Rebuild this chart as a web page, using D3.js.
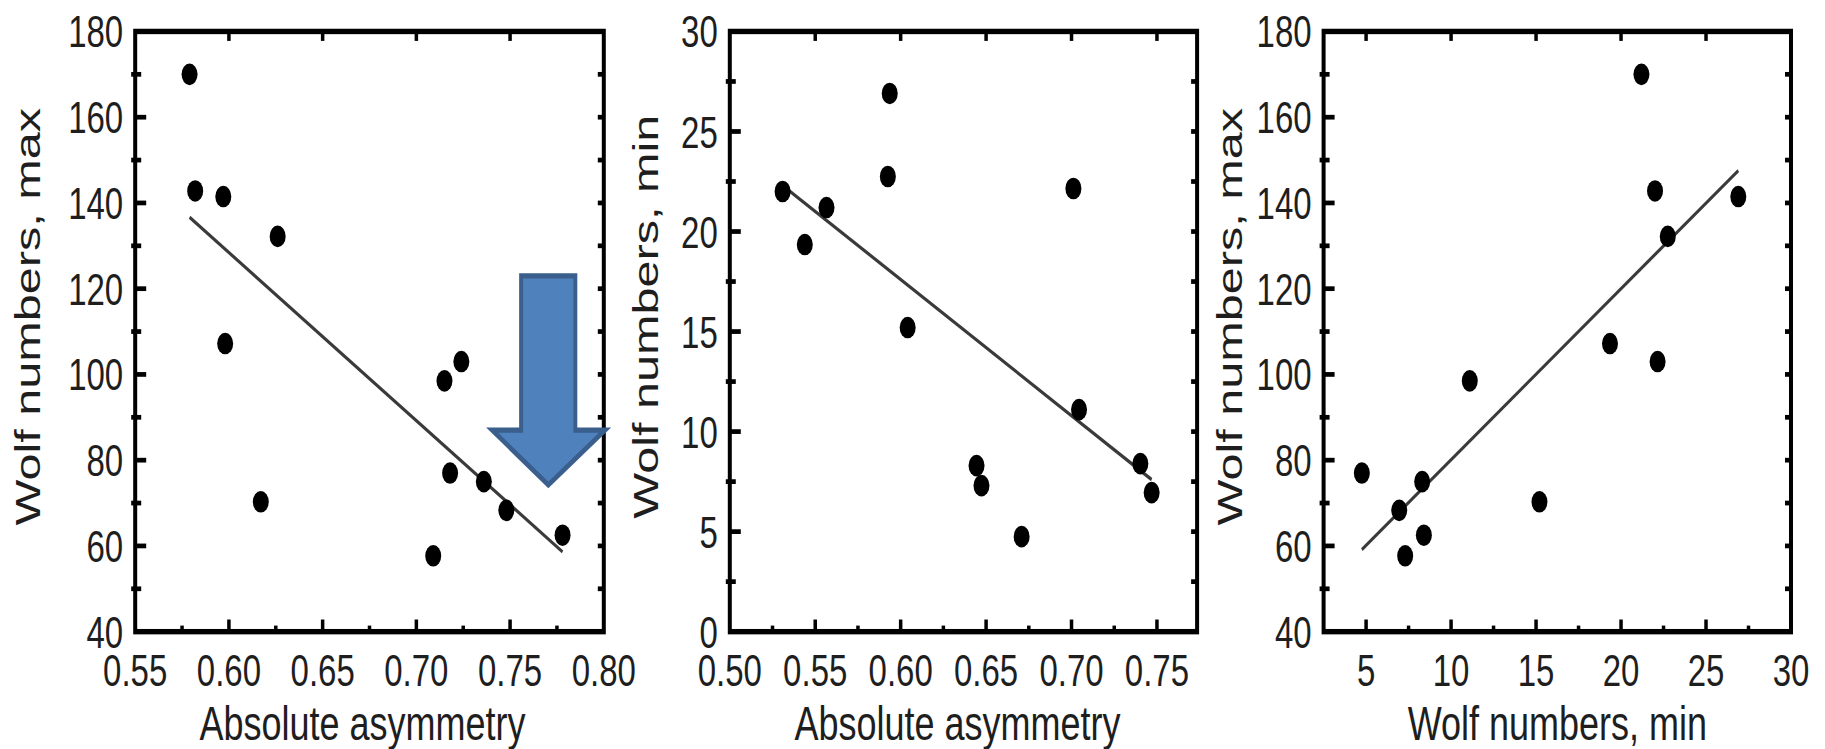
<!DOCTYPE html>
<html>
<head>
<meta charset="utf-8">
<script src="https://cdn.jsdelivr.net/npm/d3@7"></script>
<style>
  html, body { margin: 0; padding: 0; background: #fff; }
  svg { display: block; }
  text { font-family: "Liberation Sans", Arial, sans-serif; fill: #1e1e1e; }
</style>
</head>
<body>
<svg id="chart" width="1825" height="749"></svg>
<script>
// Wolf numbers at cycle maximum / minimum and the absolute asymmetry of each cycle
const wolfMax   = [170, 142.8, 141.5, 132.2, 107.2, 103, 98.5, 77, 75, 68.3, 70.3, 62.5, 57.7];
const wolfMin   = [21.2, 22.0, 26.9, 22.75, 19.35, 22.15, 11.1, 4.75, 8.3, 6.95, 15.2, 8.4, 7.3];
const asymAtMax = [0.579, 0.582, 0.597, 0.626, 0.598, 0.724, 0.715, 0.718, 0.736, 0.748, 0.617, 0.778, 0.709];
const asymAtMin = [0.5566, 0.5309, 0.5936, 0.5925, 0.5439, 0.7011, 0.7044, 0.6708, 0.6444, 0.7469, 0.6041, 0.7403, 0.6473];

// Axis tick values
const asymTicksA       = [0.55, 0.60, 0.65, 0.70, 0.75, 0.80];
const asymTicksB       = [0.50, 0.55, 0.60, 0.65, 0.70, 0.75];
const wolfMaxTicks     = [40, 60, 80, 100, 120, 140, 160, 180];
const wolfMinTicks     = [0, 5, 10, 15, 20, 25, 30];
const wolfMinAxisTicks = [5, 10, 15, 20, 25, 30];

// Down arrow over the first panel, in that panel's data units
const arrowX = { headLeft: 0.7405, bodyLeft: 0.7559, tip: 0.7704, bodyRight: 0.7848, headRight: 0.8006 };
const arrowY = { top: 123, shoulder: 87, tip: 74.2 };

// The figure is drawn in a flatter frame and stretched vertically
const S = 1.35;
const frameTop = 23.3, frameBottom = 467.9;

const svg = d3.select('#chart');
const root = svg.append('g').attr('transform', `scale(1,${S})`);

const fmt2 = d3.format('.2f'), fmtInt = d3.format('d');

const panels = [
  { left: 135.2, right: 603.8, xs: asymAtMax, ys: wolfMax, xDomain: [0.55, 0.80], yDomain: [40, 180],
    xTicks: asymTicksA, yTicks: wolfMaxTicks, xFmt: fmt2, yFmt: fmtInt,
    xTitle: 'Absolute asymmetry', xTitleShift: -7, yTitle: 'Wolf numbers, max', yTitleX: 40 },
  { left: 729.8, right: 1197.1, xs: asymAtMin, ys: wolfMin, xDomain: [0.50, 0.7735], yDomain: [0, 30],
    xTicks: asymTicksB, yTicks: wolfMinTicks, xFmt: fmt2, yFmt: fmtInt,
    xTitle: 'Absolute asymmetry', xTitleShift: -6, yTitle: 'Wolf numbers, min', yTitleX: 658 },
  { left: 1323.6, right: 1791, xs: wolfMin, ys: wolfMax, xDomain: [2.5, 30], yDomain: [40, 180],
    xTicks: wolfMinAxisTicks, yTicks: wolfMaxTicks, xFmt: fmtInt, yFmt: fmtInt,
    xTitle: 'Wolf numbers, min', xTitleShift: 0, yTitle: 'Wolf numbers, max', yTitleX: 1242 }
];

function midpoints(ticks) {
  const out = [];
  for (let i = 0; i < ticks.length - 1; i++) out.push((ticks[i] + ticks[i + 1]) / 2);
  return out;
}

function leastSquares(xs, ys) {
  const mx = d3.mean(xs), my = d3.mean(ys);
  let sxy = 0, sxx = 0;
  xs.forEach((x, i) => { sxy += (x - mx) * (ys[i] - my); sxx += (x - mx) * (x - mx); });
  const slope = sxy / sxx;
  return x => my + slope * (x - mx);
}

panels.forEach((p, idx) => {
  const x = d3.scaleLinear().domain(p.xDomain).range([p.left, p.right]);
  const y = d3.scaleLinear().domain(p.yDomain).range([frameBottom, frameTop]);
  const g = root.append('g');
  const tickStyle = sel => sel.attr('stroke', '#000').attr('stroke-width', 3.5);

  // frame
  g.append('rect')
    .attr('x', p.left).attr('y', frameTop)
    .attr('width', p.right - p.left).attr('height', frameBottom - frameTop)
    .attr('fill', 'none').attr('stroke', '#000').attr('stroke-width', 4);

  const xMajor = p.xTicks.filter(t => x(t) > p.left + 1 && x(t) < p.right - 1);
  const xMinor = midpoints(p.xTicks).filter(t => x(t) > p.left + 1 && x(t) < p.right - 1);
  const yMajor = p.yTicks.filter(t => y(t) < frameBottom - 1 && y(t) > frameTop + 1);
  const yMinor = midpoints(p.yTicks);

  // bottom ticks
  g.selectAll(null).data(xMajor).join('line')
    .attr('x1', d => x(d)).attr('x2', d => x(d))
    .attr('y1', frameBottom).attr('y2', frameBottom - 9).call(tickStyle);
  g.selectAll(null).data(xMinor).join('line')
    .attr('x1', d => x(d)).attr('x2', d => x(d))
    .attr('y1', frameBottom).attr('y2', frameBottom - 4.5).call(tickStyle);
  // top ticks
  g.selectAll(null).data(xMajor).join('line')
    .attr('x1', d => x(d)).attr('x2', d => x(d))
    .attr('y1', frameTop).attr('y2', frameTop + 7).call(tickStyle);
  // left ticks
  g.selectAll(null).data(yMajor).join('line')
    .attr('x1', p.left).attr('x2', p.left + 11)
    .attr('y1', d => y(d)).attr('y2', d => y(d)).call(tickStyle);
  g.selectAll(null).data(yMinor).join('line')
    .attr('x1', p.left - 4).attr('x2', p.left + 6)
    .attr('y1', d => y(d)).attr('y2', d => y(d)).call(tickStyle);
  // right ticks
  g.selectAll(null).data(yMajor.concat(yMinor)).join('line')
    .attr('x1', p.right).attr('x2', p.right - 6)
    .attr('y1', d => y(d)).attr('y2', d => y(d)).call(tickStyle);

  // tick labels
  g.selectAll(null).data(p.yTicks).join('text')
    .attr('x', p.left - 12).attr('y', d => y(d)).attr('dy', '0.36em')
    .attr('text-anchor', 'end').attr('font-size', 33)
    .text(d => p.yFmt(d));
  g.selectAll(null).data(p.xTicks).join('text')
    .attr('x', d => x(d)).attr('y', frameBottom + 40)
    .attr('text-anchor', 'middle').attr('font-size', 33)
    .text(d => p.xFmt(d));

  // axis titles
  g.append('text')
    .attr('x', (p.left + p.right) / 2 + p.xTitleShift).attr('y', frameBottom + 80)
    .attr('text-anchor', 'middle').attr('font-size', 36)
    .text(p.xTitle);
  g.append('text')
    .attr('transform', `translate(${p.yTitleX},${(frameTop + frameBottom) / 2 - 11}) rotate(-90)`)
    .attr('text-anchor', 'middle').attr('font-size', 36)
    .text(p.yTitle);

  // regression line
  const fit = leastSquares(p.xs, p.ys);
  const [x0, x1] = d3.extent(p.xs);
  g.append('path')
    .attr('d', d3.line()([[x(x0), y(fit(x0))], [x(x1), y(fit(x1))]]))
    .attr('stroke', '#3a3a3a').attr('stroke-width', 2.6).attr('fill', 'none');

  // points
  g.selectAll(null).data(p.xs.map((v, i) => [v, p.ys[i]])).join('circle')
    .attr('cx', d => x(d[0])).attr('cy', d => y(d[1])).attr('r', 8)
    .attr('fill', '#000');

  // arrow marking the first panel
  if (idx === 0) {
    const pts = [
      [arrowX.bodyLeft, arrowY.top], [arrowX.bodyRight, arrowY.top],
      [arrowX.bodyRight, arrowY.shoulder], [arrowX.headRight, arrowY.shoulder],
      [arrowX.tip, arrowY.tip], [arrowX.headLeft, arrowY.shoulder],
      [arrowX.bodyLeft, arrowY.shoulder]
    ].map(d => [x(d[0]), y(d[1])]);
    g.append('path')
      .attr('d', d3.line()(pts) + 'Z')
      .attr('fill', '#4f81bd').attr('stroke', '#3a5f8d')
      .attr('stroke-width', 4).attr('stroke-linejoin', 'miter');
  }
});
</script>
</body>
</html>
